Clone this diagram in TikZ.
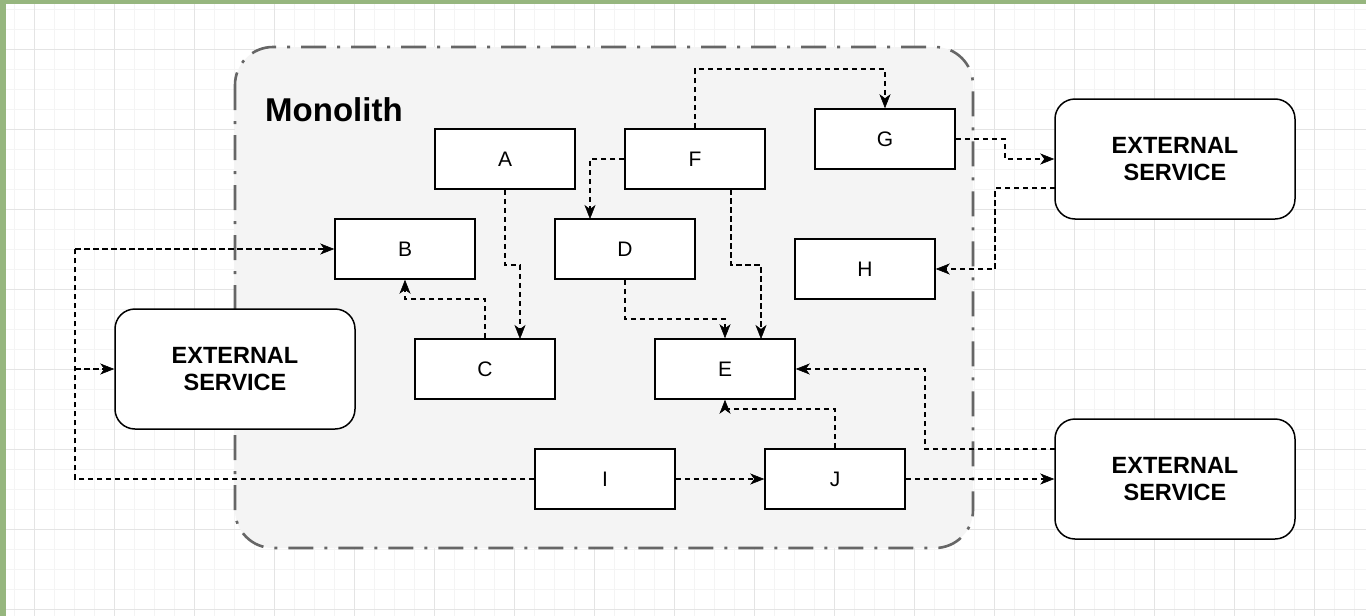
\documentclass[tikz,border=0pt]{standalone}
\usepackage{fontspec}
\setmainfont{Liberation Sans}
\usetikzlibrary{arrows.meta}
\definecolor{bordergreen}{RGB}{150,182,126}
\definecolor{gridminor}{RGB}{244,244,244}
\definecolor{gridmajor}{RGB}{228,228,228}
\definecolor{monofill}{RGB}{244,244,244}
\definecolor{monoline}{RGB}{102,102,102}
\tikzset{
  box/.style={draw=black, fill=white, line width=1.5pt, minimum width=140pt, minimum height=60pt, inner sep=0pt, font=\fontsize{21}{25}\selectfont},
  extbox/.style={draw=black, fill=white, line width=1.5pt, rounded corners=20pt, minimum width=240pt, minimum height=120pt, inner sep=0pt, align=center, font=\fontsize{23.5}{27}\selectfont\bfseries},
  conn/.style={draw=black, line width=1.4pt, dash pattern=on 5.5pt off 3.5pt, -{Stealth[length=14pt,width=11pt,inset=4pt,line width=0.5pt]}},
  connplain/.style={draw=black, line width=1.4pt, dash pattern=on 5.5pt off 3.5pt},
}
\begin{document}
\begin{tikzpicture}[x=1pt,y=-1pt]
\useasboundingbox (0,0) rectangle (1366,616);
\fill[white] (0,0) rectangle (1366,616);
% grid
\begin{scope}
\clip (6,4) rectangle (1366,616);
\foreach \gx in {14,34,...,1366} \draw[gridminor, line width=0.8pt] (\gx,0) -- (\gx,616);
\foreach \gy in {9,29,...,616} \draw[gridminor, line width=0.8pt] (0,\gy) -- (1366,\gy);
\foreach \gx in {34,114,...,1366} \draw[gridmajor, line width=1pt] (\gx,0) -- (\gx,616);
\foreach \gy in {49,129,...,616} \draw[gridmajor, line width=1pt] (0,\gy) -- (1366,\gy);
\end{scope}
% green border
\fill[bordergreen] (0,0) rectangle (1366,4);
\fill[bordergreen] (0,0) rectangle (6,616);
% monolith container
\draw[monoline, fill=monofill, line width=2.6pt, rounded corners=38pt, dash pattern=on 25pt off 11pt on 3pt off 11pt] (235,47) rectangle (973,548);
\node[anchor=base west, inner sep=0pt, font=\fontsize{33}{37}\selectfont\bfseries] (mono) at (265,121) {Monolith};
% nodes
\node[box] (A) at (505,159) {A};
\node[box] (B) at (405,249) {B};
\node[box] (C) at (485,369) {C};
\node[box] (D) at (625,249) {D};
\node[box] (E) at (725,369) {E};
\node[box] (F) at (695,159) {F};
\node[box] (G) at (885,139) {G};
\node[box] (H) at (865,269) {H};
\node[box] (I) at (605,479) {I};
\node[box] (J) at (835,479) {J};
\node[extbox] (X1) at (235,369) {EXTERNAL\\SERVICE};
\node[extbox] (X2) at (1175,159) {EXTERNAL\\SERVICE};
\node[extbox] (X3) at (1175,479) {EXTERNAL\\SERVICE};
% helper coordinates
\coordinate (lx1) at (75,479);
\coordinate (lx2) at (75,249);
\coordinate (lx3) at (75,369);
% connectors
\draw[conn] (A.south) -- (505,265) -- (520,265) -- (520,339);
\draw[conn] (C.north) -- (485,299) -- (405,299) -- (B.south);
\draw[conn] (F.west) -- (590,159) -- (590,219);
\draw[conn] (F.north) -- (695,69) -- (885,69) -- (G.north);
\draw[conn] (731,189) -- (731,265) -- (761,265) -- (761,339);
\draw[conn] (D.south) -- (625,319) -- (725,319) -- (E.north);
\draw[conn] (G.east) -- (1005,139) -- (1005,159) -- (X2.west);
\draw[conn] (1055,188) -- (995,188) -- (995,269) -- (H.east);
\draw[conn] (1055,449) -- (925,449) -- (925,369) -- (E.east);
\draw[conn] (J.north) -- (835,409) -- (725,409) -- (E.south);
\draw[conn] (I.east) -- (J.west);
\draw[conn] (J.east) -- (X3.west);
\draw[connplain] (I.west) -- (lx1) -- (lx2);
\draw[conn] (lx2) -- (B.west);
\draw[conn] (lx3) -- (X1.west);
\end{tikzpicture}
\end{document}
